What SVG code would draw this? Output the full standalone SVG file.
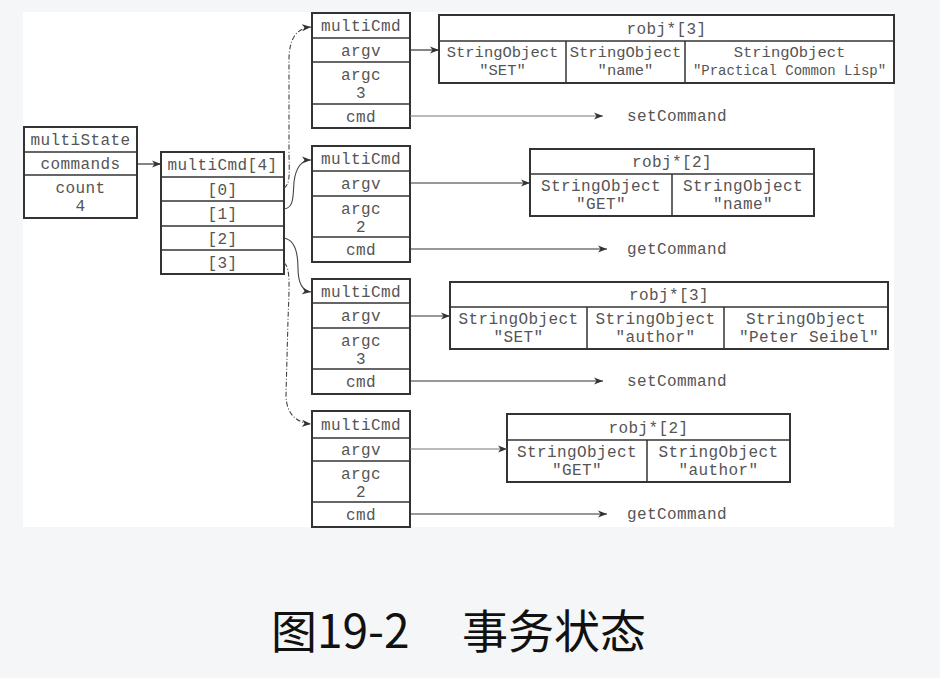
<svg xmlns="http://www.w3.org/2000/svg" width="940" height="678" viewBox="0 0 940 678">
<defs>
<marker id="ah" markerUnits="userSpaceOnUse" markerWidth="10" markerHeight="8" refX="9" refY="4" orient="auto">
<path d="M0,0.5 L9,4 L0,7.5 L2.5,4 Z" fill="#333"/>
</marker>
<style>
.box{fill:none;stroke:#333;stroke-width:2}
.ln{stroke:#333;stroke-width:1.5;fill:none}
.t{font-family:"Liberation Mono","DejaVu Sans Mono",monospace;font-size:16px;letter-spacing:0.4px;fill:#555;text-anchor:middle}
.s{font-size:15.5px;letter-spacing:0}
.lbl{font-family:"Liberation Mono","DejaVu Sans Mono",monospace;font-size:16px;letter-spacing:0.4px;fill:#555}
.arr{stroke:#333;stroke-width:1.2;fill:none;marker-end:url(#ah)}
.arrl{stroke:#777;stroke-width:1;fill:none;marker-end:url(#ah)}
.cur{stroke:#444;stroke-width:1.1;fill:none;marker-end:url(#ah)}
.dash{stroke-dasharray:5,2,1,2}
.cap{font-family:"Noto Sans CJK SC","Noto Sans",sans-serif;font-size:46px;fill:#111}
</style>
</defs>
<rect width="940" height="678" fill="#f5f6f8"/>
<rect x="23" y="12" width="871" height="515" fill="#ffffff"/>

<g id="multiState">
<rect class="box" x="24" y="127" width="113" height="91"/>
<line class="ln" x1="24" y1="152" x2="137" y2="152"/>
<line class="ln" x1="24" y1="175" x2="137" y2="175"/>
<text class="t" x="80.5" y="145">multiState</text>
<text class="t" x="80.5" y="169">commands</text>
<text class="t" x="80.5" y="192.5">count</text>
<text class="t" x="80.5" y="211">4</text>
</g>

<g id="multiCmdArray">
<rect class="box" x="161" y="152" width="123" height="122"/>
<line class="ln" x1="161" y1="177" x2="284" y2="177"/>
<line class="ln" x1="161" y1="201" x2="284" y2="201"/>
<line class="ln" x1="161" y1="226" x2="284" y2="226"/>
<line class="ln" x1="161" y1="250" x2="284" y2="250"/>
<text class="t" x="222.5" y="170">multiCmd[4]</text>
<text class="t" x="222.5" y="194.5">[0]</text>
<text class="t" x="222.5" y="219">[1]</text>
<text class="t" x="222.5" y="243.5">[2]</text>
<text class="t" x="222.5" y="267.5">[3]</text>
</g>

<g id="cmd0" transform="translate(312,13)">
<rect class="box" x="0" y="0" width="98" height="115"/>
<line class="ln" x1="0" y1="25" x2="98" y2="25"/>
<line class="ln" x1="0" y1="49" x2="98" y2="49"/>
<line class="ln" x1="0" y1="91" x2="98" y2="91"/>
<text class="t" x="49" y="18">multiCmd</text>
<text class="t" x="49" y="42.5">argv</text>
<text class="t" x="49" y="67">argc</text>
<text class="t" x="49" y="85">3</text>
<text class="t" x="49" y="108.5">cmd</text>
</g>

<g id="cmd1" transform="translate(312,146)">
<rect class="box" x="0" y="0" width="98" height="116"/>
<line class="ln" x1="0" y1="25" x2="98" y2="25"/>
<line class="ln" x1="0" y1="50" x2="98" y2="50"/>
<line class="ln" x1="0" y1="91" x2="98" y2="91"/>
<text class="t" x="49" y="18">multiCmd</text>
<text class="t" x="49" y="43">argv</text>
<text class="t" x="49" y="67.5">argc</text>
<text class="t" x="49" y="85.5">2</text>
<text class="t" x="49" y="109">cmd</text>
</g>

<g id="cmd2" transform="translate(312,279)">
<rect class="box" x="0" y="0" width="98" height="115"/>
<line class="ln" x1="0" y1="24" x2="98" y2="24"/>
<line class="ln" x1="0" y1="49" x2="98" y2="49"/>
<line class="ln" x1="0" y1="90" x2="98" y2="90"/>
<text class="t" x="49" y="17.5">multiCmd</text>
<text class="t" x="49" y="42">argv</text>
<text class="t" x="49" y="66.5">argc</text>
<text class="t" x="49" y="84.5">3</text>
<text class="t" x="49" y="108">cmd</text>
</g>

<g id="cmd3" transform="translate(312,411)">
<rect class="box" x="0" y="0" width="98" height="116"/>
<line class="ln" x1="0" y1="27" x2="98" y2="27"/>
<line class="ln" x1="0" y1="50" x2="98" y2="50"/>
<line class="ln" x1="0" y1="91" x2="98" y2="91"/>
<text class="t" x="49" y="19">multiCmd</text>
<text class="t" x="49" y="44">argv</text>
<text class="t" x="49" y="67.5">argc</text>
<text class="t" x="49" y="85.5">2</text>
<text class="t" x="49" y="109">cmd</text>
</g>

<g id="argv0">
<rect class="box" x="439" y="15" width="455" height="68"/>
<line class="ln" x1="439" y1="41" x2="894" y2="41"/>
<line class="ln" x1="566" y1="41" x2="566" y2="83"/>
<line class="ln" x1="685" y1="41" x2="685" y2="83"/>
<text class="t" x="666.5" y="33.5">robj*[3]</text>
<text class="t s" x="502.5" y="57">StringObject</text>
<text class="t s" x="502.5" y="75">"SET"</text>
<text class="t s" x="625.5" y="57">StringObject</text>
<text class="t s" x="625.5" y="75">"name"</text>
<text class="t s" x="789.5" y="57">StringObject</text>
<text class="t" x="789.5" y="75" style="font-size:14px;letter-spacing:0">"Practical Common Lisp"</text>
</g>

<g id="argv1">
<rect class="box" x="530" y="149" width="284" height="67"/>
<line class="ln" x1="530" y1="174" x2="814" y2="174"/>
<line class="ln" x1="672" y1="174" x2="672" y2="216"/>
<text class="t" x="672" y="167">robj*[2]</text>
<text class="t" x="601" y="190.5">StringObject</text>
<text class="t" x="601" y="208.5">"GET"</text>
<text class="t" x="743" y="190.5">StringObject</text>
<text class="t" x="743" y="208.5">"name"</text>
</g>

<g id="argv2">
<rect class="box" x="450" y="282" width="438" height="67"/>
<line class="ln" x1="450" y1="307" x2="888" y2="307"/>
<line class="ln" x1="587" y1="307" x2="587" y2="349"/>
<line class="ln" x1="724" y1="307" x2="724" y2="349"/>
<text class="t" x="669" y="300">robj*[3]</text>
<text class="t" x="518.5" y="323.5">StringObject</text>
<text class="t" x="518.5" y="341.5">"SET"</text>
<text class="t" x="655.5" y="323.5">StringObject</text>
<text class="t" x="655.5" y="341.5">"author"</text>
<text class="t" x="806" y="323.5">StringObject</text>
<text class="t" x="809" y="341.5">"Peter Seibel"</text>
</g>

<g id="argv3">
<rect class="box" x="507" y="414" width="283" height="68"/>
<line class="ln" x1="507" y1="440" x2="790" y2="440"/>
<line class="ln" x1="647" y1="440" x2="647" y2="482"/>
<text class="t" x="648.5" y="432.5">robj*[2]</text>
<text class="t" x="577" y="456.5">StringObject</text>
<text class="t" x="577" y="474.5">"GET"</text>
<text class="t" x="718.5" y="456.5">StringObject</text>
<text class="t" x="718.5" y="474.5">"author"</text>
</g>

<g id="cmdTargets">
<text class="lbl" x="627" y="121">setCommand</text>
<text class="lbl" x="627" y="254">getCommand</text>
<text class="lbl" x="627" y="386">setCommand</text>
<text class="lbl" x="627" y="519">getCommand</text>
</g>

<g id="connectors">
<line class="arr" x1="137" y1="164" x2="161" y2="164"/>
<line class="arr" x1="410" y1="50" x2="439" y2="50"/>
<line class="arr" x1="410" y1="183" x2="530" y2="183"/>
<line class="arr" x1="410" y1="316" x2="450" y2="316"/>
<line class="arrl" x1="410" y1="449" x2="507" y2="449"/>
<line class="arrl" x1="410" y1="116" x2="603" y2="116"/>
<line class="arr" x1="410" y1="249" x2="607" y2="249"/>
<line class="arr" x1="410" y1="381" x2="603" y2="381"/>
<line class="arr" x1="410" y1="514" x2="607" y2="514"/>
<path class="cur dash" d="M284,188 C291,184 289,170 289,150 L289,60 C289,38 297,28 311,27"/>
<path class="cur" d="M284,209 C294,208 293,196 294,182 C296,166 302,160 311,160"/>
<path class="cur" d="M284,238 C295,240 298,254 298,268 C298,284 303,291 311,292"/>
<path class="cur dash" d="M284,263 C291,267 289,290 288,320 L286,395 C286,414 297,423 311,424"/>
</g>

<g id="caption">
<text class="cap" x="271" y="648">图19-2</text>
<text class="cap" x="462" y="648">事务状态</text>
</g>
</svg>
